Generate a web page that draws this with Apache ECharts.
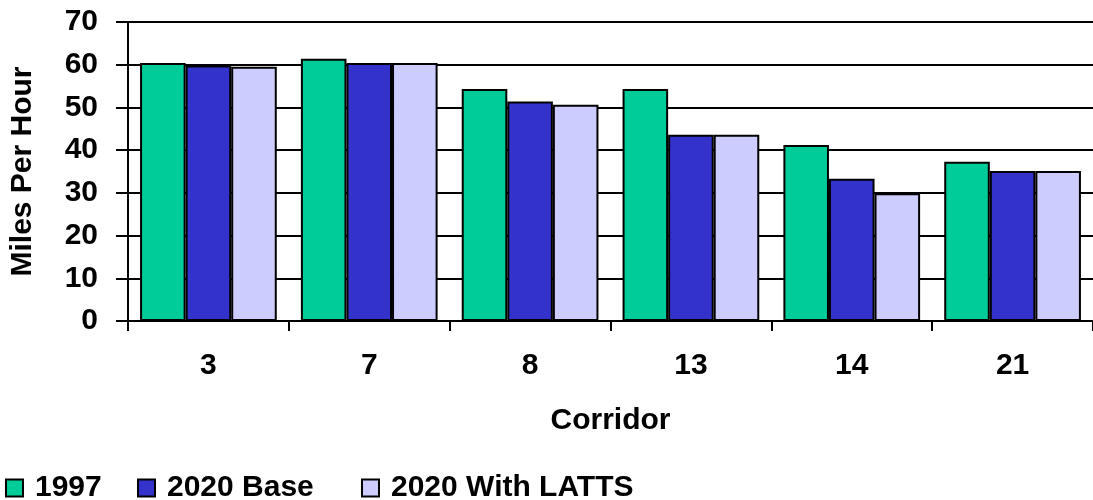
<!DOCTYPE html>
<html>
<head>
<meta charset="utf-8">
<script src="https://cdn.jsdelivr.net/npm/echarts@6/dist/echarts.min.js"></script>
<style>
html,body{margin:0;padding:0;background:#fff;}
#chart{width:1093px;height:500px;}
</style>
</head>
<body>
<div id="chart"></div>
<script>
const categories = ['3', '7', '8', '13', '14', '21'];
const seriesNames = ['1997', '2020 Base', '2020 With LATTS'];
const values1997 = [60.4, 61.4, 54.3, 54.3, 41.2, 37.3];
const values2020Base = [59.8, 60.4, 51.4, 43.6, 33.3, 35.1];
const values2020Latts = [59.5, 60.4, 50.6, 43.6, 29.9, 35.1];
const yTicks = [0, 10, 20, 30, 40, 50, 60, 70];

const colors = ['#00CC99', '#3333CC', '#CCCCFF'];
const FONT = '"Liberation Sans", Arial, sans-serif';
const FS = 30;
const legendLefts = [0, 132, 356];
const chart = echarts.init(document.getElementById('chart'), null, {renderer: 'canvas'});

const seriesData = [values1997, values2020Base, values2020Latts];

chart.setOption({
  animation: false,
  backgroundColor: '#ffffff',
  textStyle: {fontFamily: FONT},
  grid: {left: 127, top: 22, height: 299, width: 972, containLabel: false},
  legend: seriesNames.map((name, i) => ({
    left: legendLefts[i], top: 468, padding: 5,
    itemWidth: 17, itemHeight: 17,
    icon: 'rect',
    data: [name],
    textStyle: {fontSize: FS, fontWeight: 'bold', color: '#000', fontFamily: FONT, padding: [0, 0, 0, 7]}
  })),
  xAxis: {
    type: 'category',
    data: categories,
    name: 'Corridor',
    nameLocation: 'middle',
    nameGap: 85,
    nameTextStyle: {fontSize: FS, fontWeight: 'bold', color: '#000', fontFamily: FONT},
    axisLine: {lineStyle: {color: '#000', width: 2}},
    axisTick: {show: true, length: 10, lineStyle: {color: '#000', width: 2}},
    axisLabel: {margin: 30, fontSize: FS, fontWeight: 'bold', color: '#000', fontFamily: FONT},
    splitLine: {show: false}
  },
  yAxis: {
    type: 'value',
    min: yTicks[0], max: yTicks[yTicks.length - 1], interval: 10,
    name: 'Miles Per Hour',
    nameLocation: 'middle',
    nameGap: 90,
    nameTextStyle: {fontSize: FS, fontWeight: 'bold', color: '#000', fontFamily: FONT},
    axisLine: {show: true, lineStyle: {color: '#000', width: 2}},
    axisTick: {show: true, length: 12, lineStyle: {color: '#000', width: 2}},
    axisLabel: {margin: 30, fontSize: FS, fontWeight: 'bold', color: '#000', fontFamily: FONT},
    splitLine: {show: true, lineStyle: {color: '#000', width: 2}}
  },
  series: seriesNames.map((name, i) => ({
    name: name,
    type: 'bar',
    data: seriesData[i],
    barGap: '0%',
    barCategoryGap: '15%',
    itemStyle: {color: colors[i], borderColor: '#000', borderWidth: 2}
  }))
});
</script>
</body>
</html>
